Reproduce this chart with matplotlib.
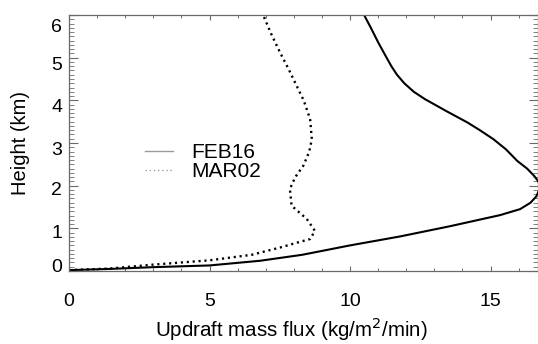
import matplotlib
matplotlib.use("Agg")
import matplotlib.pyplot as plt
from matplotlib.lines import Line2D
from matplotlib.ticker import FixedLocator, MultipleLocator
import matplotlib.transforms as mtransforms

plt.rcParams['font.family'] = ['Liberation Sans', 'DejaVu Sans']

# ---- data ----
series_names = ["FEB16", "MAR02"]

feb16_height = [0.02, 0.05, 0.09, 0.13, 0.24, 0.38, 0.60, 0.81, 1.05, 1.31, 1.45,
                1.60, 1.75, 1.90, 2.00, 2.10, 2.23, 2.40, 2.58, 2.85, 3.09, 3.30,
                3.48, 3.75, 4.03, 4.20, 4.40, 4.60, 4.80, 5.00, 5.36, 5.70, 6.00]
feb16_flux = [0.00, 1.50, 3.00, 5.00, 6.80, 8.30, 10.00, 11.78, 13.56, 15.34, 16.05,
              16.42, 16.63, 16.73, 16.75, 16.70, 16.55, 16.30, 15.95, 15.55, 15.10, 14.62,
              14.18, 13.42, 12.66, 12.27, 11.93, 11.67, 11.47, 11.30, 11.00, 10.74, 10.50]

mar02_height = [0.02, 0.06, 0.15, 0.25, 0.38, 0.55, 0.68, 0.75, 0.94, 1.22, 1.53,
                1.92, 2.20, 2.47, 2.80, 3.09, 3.56, 4.00, 4.34, 4.75, 5.12, 5.55, 5.98]
mar02_flux = [0.00, 1.50, 3.00, 5.00, 6.50, 7.51, 8.20, 8.58, 8.75, 8.46, 7.92,
              7.86, 8.05, 8.34, 8.55, 8.64, 8.58, 8.35, 8.10, 7.80, 7.51, 7.20, 6.92]

x_ticks = [0, 5, 10, 15]
x_tick_labels = ["0", "5", "10", "15"]
y_ticks = [0, 1, 2, 3, 4, 5, 6]
y_tick_labels = ["0", "1", "2", "3", "4", "5", "6"]

x_label = "Updraft mass flux (kg/m$^2$/min)"
y_label = "Height (km)"

# ---- figure ----
fig = plt.figure(figsize=(5.38, 3.44), dpi=100)
ax = fig.add_axes([69 / 538, 1 - 271 / 344, (537.5 - 69) / 538, (271 - 15) / 344])

ax.plot(feb16_flux, feb16_height, color='black', lw=1.5, solid_joinstyle='round')
ax.plot(mar02_flux, mar02_height, color='black', lw=1.7, linestyle=(0, (0.9, 1.6)))

ax.set_xlim(0, 16.67)
ax.set_ylim(0, 6.0)

ax.xaxis.set_major_locator(FixedLocator(x_ticks))
ax.xaxis.set_minor_locator(MultipleLocator(1))
ax.yaxis.set_major_locator(FixedLocator(y_ticks))
ax.yaxis.set_minor_locator(MultipleLocator(0.1))
ax.set_xticklabels(x_tick_labels)
ax.set_yticklabels(y_tick_labels)

spine_col = '#6a6a6a'
for s in ax.spines.values():
    s.set_color(spine_col)
    s.set_linewidth(0.9)

ax.tick_params(axis='x', which='major', direction='in', length=3.8, width=0.8,
               color=spine_col, top=True, bottom=True, labelsize=14, pad=16)
ax.tick_params(axis='x', which='minor', direction='in', length=2.3, width=0.7,
               color=spine_col, top=True, bottom=True)
ax.tick_params(axis='y', which='major', direction='in', length=6.5, width=0.8,
               color=spine_col, left=True, right=True, labelsize=14, pad=5)
ax.tick_params(axis='y', which='minor', direction='in', length=3.5, width=0.6,
               color=spine_col, left=True, right=True)

# IDL-like vertical shifts of y tick labels (pixels, positive = down)
y_label_shift = [-5, 3, 2.5, 5.5, 5, 6, 10]
for tick, dy in zip(ax.yaxis.get_major_ticks(), y_label_shift):
    off = mtransforms.ScaledTranslation(0, -dy / 100, fig.dpi_scale_trans)
    tick.label1.set_transform(tick.label1.get_transform() + off)

ax.set_xlabel(x_label, fontsize=14.8, labelpad=4)
ax.xaxis.label.set_x((291 - 69) / 468.5)
ax.set_ylabel(y_label, fontsize=14.5, labelpad=15)

handles = [Line2D([], [], color='#9a9a9a', lw=1.0),
           Line2D([], [], color='#9a9a9a', lw=1.0, linestyle=(0, (1, 2)))]
leg = ax.legend(handles, series_names, loc='center left',
                bbox_to_anchor=((145 - 69) / 468.5, (271 - 162) / 256),
                frameon=False, fontsize=15, handlelength=1.35, handletextpad=0.85,
                labelspacing=0.0, borderpad=0, borderaxespad=0)

fig.savefig("out.png", dpi=100)
